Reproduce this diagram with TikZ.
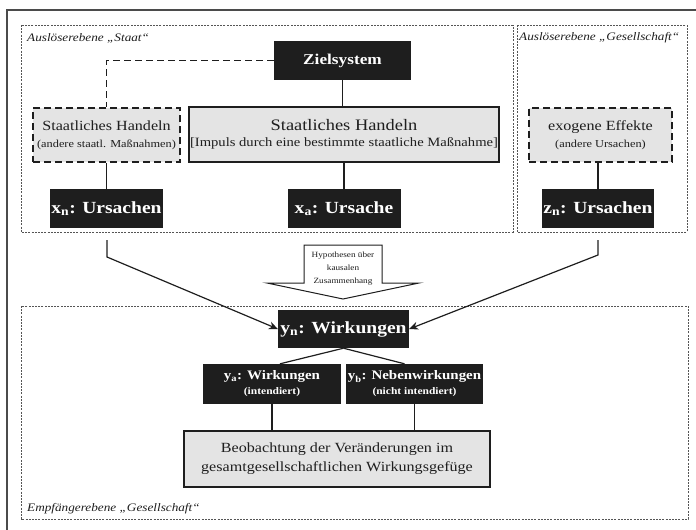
\documentclass[tikz,border=0pt]{standalone}
\usepackage{fontspec}
\setmainfont{Liberation Serif}[FakeStretch=1.15]
\usetikzlibrary{arrows.meta,calc}

\definecolor{ink}{HTML}{1E1E1E}
\definecolor{boxgray}{HTML}{E4E4E4}
\definecolor{framegray}{HTML}{555555}

\newcommand{\fs}[1]{\fontsize{#1}{#1}\selectfont}

\tikzset{
  blackbox/.style={fill=ink, text=white, font=\bfseries, inner sep=0pt, align=center},
  graybox/.style={fill=boxgray, draw=ink, line width=1.3pt, text=ink, align=center, inner sep=0pt},
  dashbox/.style={fill=boxgray, draw=ink, line width=1.5pt, dash pattern=on 7pt off 4pt,
                  text=ink, align=center, inner sep=0pt},
  region/.style={draw=framegray, line width=1pt, dash pattern=on 2pt off 1.2pt},
  regionlabel/.style={font=\itshape\fs{11.5}, text=ink, anchor=west, inner sep=0pt},
  link/.style={draw=ink, line width=1.2pt},
  dashlink/.style={link, line width=1.5pt, dash pattern=on 7pt off 4pt},
  arr/.style={link, -{Stealth[length=9pt,width=8pt]}},
}

\begin{document}
\begin{tikzpicture}[x=1pt,y=-1pt]
\useasboundingbox (0,0) rectangle (696,530);
\clip (0,0) rectangle (696,530);

% outer frame
\draw[draw=ink!80, line width=1.2pt] (7,540) -- (7,10) -- (710,10);

% levels
\draw[region] (21,25) rectangle (513,232);
\draw[region] (517,25) rectangle (687,232);
\draw[region] (21,306) rectangle (688,519);
\node[regionlabel] (lstaat) at (27,38) {Auslöserebene „Staat“};
\node[regionlabel] (lgesell) at (519,38) {Auslöserebene „Gesellschaft“};
\node[regionlabel] (lempf) at (27,509) {Empfängerebene „Gesellschaft“};

% trigger level
\node[blackbox, minimum width=137pt, minimum height=39pt, font=\bfseries\fs{15}]
  (ziel) at (342.5,60.5) {Zielsystem};
\node[dashbox, minimum width=147pt, minimum height=54pt]
  (lhandeln) at (106.5,135)
  {{\fs{14}Staatliches Handeln}\\[5pt]{\fs{10.7}(andere staatl. Maßnahmen)}};
\node[graybox, minimum width=310pt, minimum height=55pt]
  (chandeln) at (344,134.5)
  {{\fs{16}Staatliches Handeln}\\[4pt]{\fs{12.7}[Impuls durch eine bestimmte staatliche Maßnahme]}};
\node[dashbox, minimum width=143pt, minimum height=54pt]
  (ghandeln) at (600.5,135)
  {{\fs{14}exogene Effekte}\\[5pt]{\fs{10.7}(andere Ursachen)}};

\node[blackbox, minimum width=113pt, minimum height=39pt, font=\bfseries\fs{17}]
  (xn) at (106.5,208.5) {x\textsubscript{n}: Ursachen};
\node[blackbox, minimum width=113pt, minimum height=39pt, font=\bfseries\fs{17}]
  (xa) at (344,208.5) {x\textsubscript{a}: Ursache};
\node[blackbox, minimum width=112pt, minimum height=39pt, font=\bfseries\fs{17}]
  (zn) at (598,208.5) {z\textsubscript{n}: Ursachen};

% receiver level
\node[blackbox, minimum width=131pt, minimum height=38pt, font=\bfseries\fs{17}]
  (yn) at (343.5,329) {y\textsubscript{n}: Wirkungen};
\node[blackbox, minimum width=138pt, minimum height=40pt]
  (ya) at (272,384) {{\fs{13}y\textsubscript{a}: Wirkungen}\\[3pt]{\fs{10}(intendiert)}};
\node[blackbox, minimum width=137pt, minimum height=40pt]
  (yb) at (414.5,384) {{\fs{13}y\textsubscript{b}: Nebenwirkungen}\\[3pt]{\fs{10}(nicht intendiert)}};
\node[graybox, minimum width=306pt, minimum height=56pt, font=\fs{14}]
  (beob) at (337,459)
  {Beobachtung der Veränderungen im\\[5pt]gesamtgesellschaftlichen Wirkungsgefüge};

% hypothesis arrow
\draw[draw=ink, line width=1pt, fill=white, line join=miter]
  (304,245) -- (382,245) -- (382,283) -- (419,283) -- (343,299)
  -- (267,283) -- (304,283) -- cycle;
\node[font=\fs{8}, align=center, text=ink, inner sep=0pt]
  (hyp) at (343,269) {Hypothesen über\\[5pt]kausalen\\[5pt]Zusammenhang};

% connectors
\draw[dashlink] (ziel.west) -| (lhandeln.north);
\draw[link] (ziel.south) -- (ziel.south |- chandeln.north);
\draw[link] (lhandeln.south) -- (xn.north);
\draw[link] (chandeln.south) -- (xa.north);
\draw[link] (zn.north) -- (zn.north |- ghandeln.south);

\coordinate (xnout) at (107,240);
\coordinate (znout) at (598,240);
\draw[arr] (xnout) -- ++(0,17) -- (yn.west);
\draw[arr] (znout) -- ++(0,15) -- (yn.east);

\draw[link] (yn.south) -- ([xshift=8pt]ya.north);
\draw[link] (yn.south) -- ([xshift=-10pt]yb.north);
\draw[link] (ya.south) -- (ya.south |- beob.north);
\draw[link] (yb.south) -- (yb.south |- beob.north);
\end{tikzpicture}
\end{document}
